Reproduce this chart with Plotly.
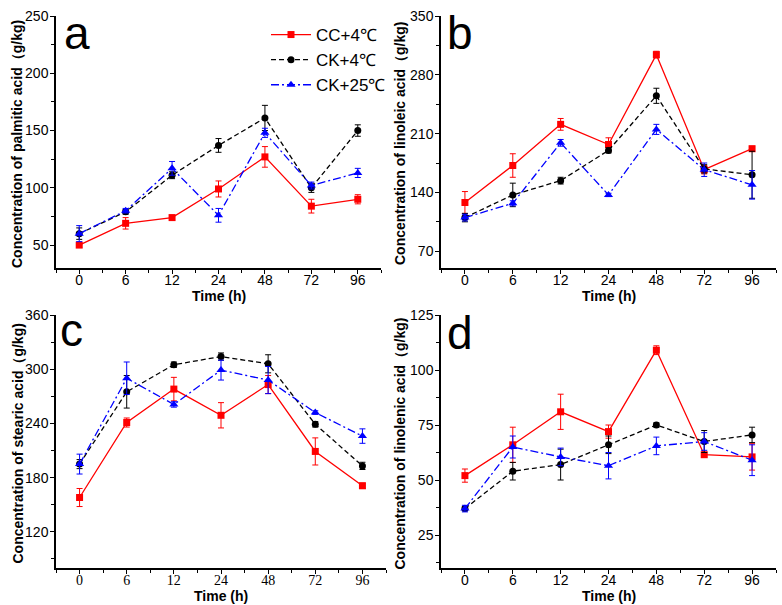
import plotly.graph_objects as go

times = ["0", "6", "12", "24", "48", "72", "96"]
series_names = ["CC+4℃", "CK+4℃", "CK+25℃"]

# Panel a: palmitic acid
palm_cc = [50, 69, 74, 99, 127, 84, 90]
palm_cc_err = [2, 5, 2, 7, 9, 6, 4]
palm_ck4 = [60, 79, 111, 137, 161, 100, 150]
palm_ck4_err = [5, 2, 3, 6, 11, 4, 5]
palm_ck25 = [60, 80, 117, 76, 148, 102, 113]
palm_ck25_err = [7, 2, 6, 6, 4, 3, 4]

# Panel b: linoleic acid
lino_cc = [128, 172, 221, 197, 304, 167, 192]
lino_cc_err = [13, 14, 7, 8, 4, 5, 3]
lino_ck4 = [110, 137, 154, 190, 255, 168, 161]
lino_ck4_err = [5, 14, 4, 3, 9, 5, 28]
lino_ck25 = [110, 127, 199, 137, 215, 167, 149]
lino_ck25_err = [4, 3, 4, 2, 6, 8, 17]

# Panel c: stearic acid
stea_cc = [158, 241, 278, 249, 283, 209, 171]
stea_cc_err = [10, 5, 13, 14, 10, 15, 3]
stea_ck4 = [195, 275, 305, 314, 306, 239, 193]
stea_ck4_err = [5, 18, 3, 4, 10, 3, 4]
stea_ck25 = [195, 290, 261, 299, 288, 252, 226]
stea_ck25_err = [11, 18, 3, 11, 15, 2, 8]

# Panel d: linolenic acid
lnln_cc = [52, 66, 81, 72, 109, 61.5, 60.5]
lnln_cc_err = [3, 8, 8, 3, 2, 1, 6]
lnln_ck4 = [37, 54, 57, 66, 75, 67.5, 70.5]
lnln_ck4_err = [1, 4, 7, 4, 1, 5, 3.5]
lnln_ck25 = [37, 65, 60.5, 56.5, 65.5, 67.5, 59]
lnln_ck25_err = [1.5, 5, 4, 6, 4, 4, 7]

x_title = "Time (h)"
y_titles = [
    "Concentration of palmitic acid（g/kg)",
    "Concentration of linoleic acid（g/kg)",
    "Concentration of stearic acid（g/kg)",
    "Concentration of linolenic acid（g/kg)",
]
panel_letters = ["a", "b", "c", "d"]
y_ranges = [[30, 250], [50, 350], [80, 360], [10, 125]]
y_dticks = [50, 70, 60, 25]

panel_data = [
    [(palm_cc, palm_cc_err), (palm_ck4, palm_ck4_err), (palm_ck25, palm_ck25_err)],
    [(lino_cc, lino_cc_err), (lino_ck4, lino_ck4_err), (lino_ck25, lino_ck25_err)],
    [(stea_cc, stea_cc_err), (stea_ck4, stea_ck4_err), (stea_ck25, stea_ck25_err)],
    [(lnln_cc, lnln_cc_err), (lnln_ck4, lnln_ck4_err), (lnln_ck25, lnln_ck25_err)],
]

W, H = 782, 605
# plot areas in pixels: (left, right, top, bottom)
boxes = [(56, 381, 16, 268), (441, 776, 16, 268), (56, 386, 315, 568), (441, 776, 315, 568)]
ytitle_x = [17, 400, 17, 399]
xtitle_dy = 28
letter_px = [(62, 33), (445, 33), (58, 330), (445, 333)]

colors = ["#ff0000", "#000000", "#0000ff"]
symbols = ["square", "circle", "triangle-up"]
msizes = [7, 7, 8]
dashes = ["solid", "5px,3px", "8px,3px,2px,3px"]

SANS = "Liberation Sans, Arial, sans-serif"
SERIF = "Liberation Serif, Times New Roman, serif"

xpos = list(range(len(times)))

def px(xp):
    return xp / W

def py(yp):
    return 1 - yp / H

fig = go.Figure()
annotations = []
for p in range(4):
    ax = "" if p == 0 else str(p + 1)
    l, r, t, b = boxes[p]
    for s in range(3):
        vals, errs = panel_data[p][s]
        fig.add_trace(go.Scatter(
            x=xpos, y=vals,
            error_y=dict(type="data", array=errs, visible=True,
                         color=colors[s], thickness=1, width=3),
            mode="lines+markers",
            name=series_names[s],
            showlegend=(p == 0),
            line=dict(color=colors[s], width=1.3, dash=dashes[s]),
            marker=dict(symbol=symbols[s], size=msizes[s], color=colors[s],
                        line=dict(width=0)),
            xaxis="x" + ax, yaxis="y" + ax,
        ))
    xfont = SERIF if p == 2 else SANS
    fig.update_layout(**{
        "xaxis" + ax: dict(
            domain=[px(l), px(r)], anchor="y" + ax, range=[-0.5, 6.5],
            automargin=False,
            tickmode="array", tickvals=xpos, ticktext=times,
            ticks="outside", ticklen=4, tickwidth=1.3, tickcolor="black",
            ticklabelstandoff=-6,
            showline=True, linewidth=1.5, linecolor="black",
            showgrid=False, zeroline=False,
            minor=dict(tickmode="array", tickvals=[k + 0.5 for k in range(-1, 7)],
                       ticks="outside", ticklen=3, tickwidth=1.2, tickcolor="black"),
            tickfont=dict(family=xfont, size=14, color="black"),
        ),
        "yaxis" + ax: dict(
            domain=[py(b), py(t)], anchor="x" + ax, range=y_ranges[p],
            automargin=False,
            tick0=0, dtick=y_dticks[p],
            ticks="outside", ticklen=4, tickwidth=1.3, tickcolor="black",
            ticklabelstandoff=-1,
            showline=True, linewidth=1.5, linecolor="black",
            showgrid=False, zeroline=False,
            minor=dict(dtick=y_dticks[p] / 2, tick0=0, ticks="outside",
                       ticklen=3, tickwidth=1.2, tickcolor="black"),
            tickfont=dict(family=SANS, size=14, color="black"),
        ),
    })
    annotations.append(dict(
        text="<b>" + x_title + "</b>", x=px((l + r) / 2), y=py(b + xtitle_dy),
        xref="paper", yref="paper", xanchor="center", yanchor="middle",
        showarrow=False, font=dict(family=SANS, size=14, color="black"),
    ))
    annotations.append(dict(
        text="<b>" + y_titles[p] + "</b>", x=px(ytitle_x[p]), y=py((t + b) / 2 + 2),
        xref="paper", yref="paper", xanchor="center", yanchor="middle",
        textangle=-90, showarrow=False,
        font=dict(family=SANS, size=14, color="black"),
    ))
    annotations.append(dict(
        text=panel_letters[p], x=px(letter_px[p][0]), y=py(letter_px[p][1]),
        xref="paper", yref="paper", xanchor="left", yanchor="middle",
        showarrow=False, font=dict(family=SANS, size=46, color="black"),
    ))

fig.update_layout(
    width=W, height=H,
    margin=dict(l=0, r=0, t=0, b=0),
    paper_bgcolor="white", plot_bgcolor="white",
    annotations=annotations,
    legend=dict(x=px(266), y=py(17), xanchor="left", yanchor="top",
                bgcolor="rgba(0,0,0,0)", itemwidth=40, tracegroupgap=0,
                font=dict(family=SANS, size=17, color="black")),
)

fig.write_html("out.html", config={"displayModeBar": False},
               post_script="document.body.style.margin='0px';")
